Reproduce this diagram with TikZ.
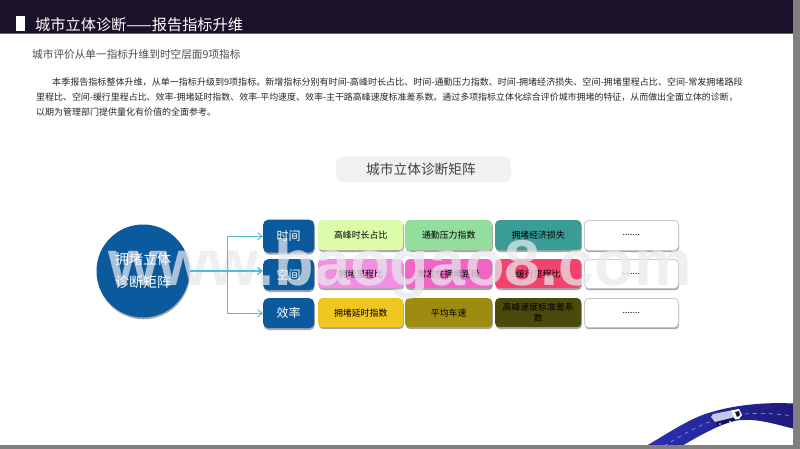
\documentclass[tikz,border=0pt]{standalone}
\usepackage{fontspec}
\setmainfont{Noto Sans CJK SC}
\newfontfamily\wmfont{Liberation Sans}
\usetikzlibrary{shadows,arrows.meta}
\definecolor{hdr}{HTML}{1A1228}
\definecolor{navy}{HTML}{0B5A9E}
\definecolor{conn}{HTML}{55BCD8}
\definecolor{pill}{HTML}{F0F1F3}
\definecolor{barg}{HTML}{808080}
\definecolor{wm}{HTML}{E8EAEE}
\definecolor{roadl}{HTML}{2B30B4}
\definecolor{roadr}{HTML}{1E1B78}
\tikzset{
  x=1pt,y=-1pt,
  boxshadow/.style={drop shadow={shadow xshift=0.6pt,shadow yshift=-1.8pt,opacity=.35,fill=black}},
  cat/.style={draw=none,fill=navy,rounded corners=5pt,inner sep=0pt,anchor=north west,boxshadow},
  lab/.style={text=white,font=\fontsize{12}{14}\selectfont,inner sep=0pt},
  cell/.style={draw=none,rounded corners=4pt,text=black,font=\fontsize{8.9}{12}\selectfont,inner sep=0pt,anchor=north west,align=center,boxshadow},
  blank/.style={cell,fill=white,draw=black!22,line width=.8pt},
  linknav/.style={draw=conn,line width=1pt,-{Straight Barb[length=4.5pt,width=7pt]}},
  body/.style={anchor=west,inner sep=0pt,text=black!85,font=\fontsize{9}{11}\selectfont},
}
\begin{document}
\begin{tikzpicture}
\useasboundingbox (0,0) rectangle (800,449);
\fill[white] (0,0) rectangle (800,449);
% header
\fill[hdr] (0,0) rectangle (793,33);
\fill[black!60] (0,32.6) rectangle (793,34);
\fill[white] (16,16) rectangle (25,31);
\node[anchor=west,inner sep=0pt,text=white,font=\fontsize{15.2}{18}\selectfont] (title) at (35,24.5) {城市立体诊断——报告指标升维};
\node[anchor=west,inner sep=0pt,text=black!70,font=\fontsize{10.65}{13}\selectfont] (sub) at (32,54.5) {城市评价从单一指标升维到时空层面9项指标};
\node[body,font=\fontsize{9.05}{11}\selectfont] (l1) at (52,82) {本季报告指标整体升维，从单一指标升级到9项指标。新增指标分别有时间-高峰时长占比、时间-通勤压力指数、时间-拥堵经济损失、空间-拥堵里程占比、空间-常发拥堵路段};
\node[body,font=\fontsize{8.95}{11}\selectfont] (l2) at (36,97) {里程比、空间-缓行里程占比、效率-拥堵延时指数、效率-平均速度、效率-主干路高峰速度标准差系数。通过多项指标立体化综合评价城市拥堵的特征，从而做出全面立体的诊断，};
\node[body] (l3) at (36,112) {以期为管理部门提供量化有价值的全面参考。};
% pill
\node[fill=pill,rounded corners=8pt,minimum width=175pt,minimum height=26pt,inner sep=0pt,text=black!75,font=\fontsize{13.7}{16}\selectfont] (pilltitle) at (423.5,169.5) {\hspace*{-5pt}城市立体诊断矩阵};
% circle
\node[circle,fill=navy,minimum size=93pt,inner sep=0pt,boxshadow] (hub) at (143,271) {};
% categories
\node[cat,minimum width=51pt,minimum height=33pt] (cata) at (263,219.5) {};
\node[cat,minimum width=51pt,minimum height=31pt] (catb) at (263,259) {};
\node[cat,minimum width=51pt,minimum height=30pt] (catc) at (263,298) {};
% cells
\foreach \nm/\xx/\ww/\yy/\hh/\col/\txt in {
 aa/318/85/220/30/DCFCA9/高峰时长占比,
 ab/405/87/220/30/93DD9D/通勤压力指数,
 ac/495/86/220/30/3A9D95/拥堵经济损失,
 ba/318/85/259/29/F28FE0/拥堵里程比,
 bb/405/87/259/29/F066C4/常发性拥堵路段,
 bc/495/86/259/29/F2436F/缓行里程比,
 ca/318/85/298/29/F0C620/拥堵延时指数,
 cb/405/87/298/29/9D8C10/平均车速}
{ \definecolor{cc}{HTML}{\col}
  \node[cell,fill=cc,minimum width=\ww pt,minimum height=\hh pt] (c\nm) at (\xx,\yy) {\txt}; }
\definecolor{cc}{HTML}{4A4A0C}
\node[cell,fill=cc,minimum width=86pt,minimum height=29pt,font=\fontsize{8.9}{11}\selectfont] (ccc) at (495,298) {高峰速度标准差系\\数};
\node[blank,minimum width=94pt,minimum height=30pt] (ad) at (584,220) {.......};
\node[blank,minimum width=94pt,minimum height=29pt] (bd) at (584,259) {.......};
\node[blank,minimum width=94pt,minimum height=29pt] (cd) at (584,298) {.......};
% road
\shade[left color=roadl,right color=roadr]
  (646,446) .. controls (670,432) and (692,417) .. (712,412)
  .. controls (735,405) and (765,402) .. (793,403.5)
  -- (793,428.5) .. controls (770,423) and (745,414) .. (722,425)
  .. controls (708,431) and (695,438) .. (682,446) -- cycle;
\draw[white!60!blue,line width=.6pt,dash pattern=on 4pt off 4pt]
  (664,446) .. controls (685,433) and (700,425) .. (715,420)
  .. controls (740,412) and (765,412) .. (793,416);
% truck
\fill[roadr!70!black] (714,420) -- (736,413) -- (737,420) -- (718,426) -- cycle;
\fill[cyan!12!white!85!blue] (711,417) -- (713,414) -- (731,410.5) -- (735,417) -- (715,422) -- cycle;
\fill[white] (731,410.5) -- (739,409) -- (742,415) -- (739,419) -- (735,419.5) -- cycle;
\fill[hdr] (735,412) -- (739,411) -- (740,415) -- (737,417) -- cycle;
\fill[white] (720,424) circle (.9pt) (730,421.5) circle (.9pt);
% watermark
\node[anchor=base west,inner sep=0pt,text=wm,opacity=.72,font=\wmfont\bfseries\fontsize{64.7}{70}\selectfont] (mark) at (108,285) {www.baogao8.com};
% connectors stay bright above the watermark
\coordinate (split) at (227,271);
\draw[linknav,line width=1.3pt] (hub.east) -- (hub.east -| catb.west);
\draw[linknav] (split) |- (cata.west);
\draw[linknav] (split) |- (catc.west);
% white labels stay readable above the watermark
\node[lab,align=center,font=\fontsize{14}{23}\selectfont] (hubtext) at (hub.center) {拥堵立体\\诊断矩阵};
\node[lab] (timetext) at (cata.center) {时间};
\node[lab] (spacetext) at (catb.center) {空间};
\node[lab] (efftext) at (catc.center) {效率};
% page edge
\fill[barg] (793,0) rectangle (800,449);
\fill[barg] (0,445) rectangle (800,449);
\end{tikzpicture}
\end{document}
